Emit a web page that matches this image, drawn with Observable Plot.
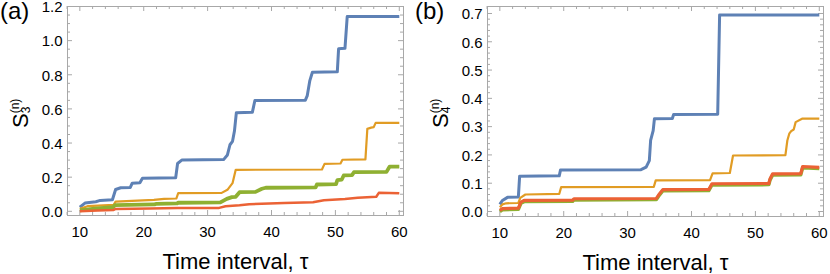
<!DOCTYPE html>
<html>
<head>
<meta charset="utf-8">
<script src="https://cdn.jsdelivr.net/npm/d3@7"></script>
<script src="https://cdn.jsdelivr.net/npm/@observablehq/plot@0.6"></script>
<style>
  html, body { margin: 0; padding: 0; background: #fff; }
  #wrap { display: flex; width: 830px; height: 274px; }
  #wrap svg { display: block; overflow: visible; }
</style>
</head>
<body>
<div id="wrap"></div>
<script>
// ---------- data (tau, value) ----------
const blueA = [[10,0.024],[10.8,0.048],[12.5,0.056],[13.2,0.064],[15.1,0.068],[15.6,0.128],[16.4,0.138],[17.9,0.14],[18.2,0.165],[19.4,0.167],[19.8,0.194],[25,0.196],[25.3,0.28],[26,0.301],[32.5,0.303],[33.1,0.33],[33.5,0.39],[33.9,0.41],[34.2,0.47],[34.5,0.578],[37.0,0.58],[37.4,0.649],[45.3,0.651],[45.6,0.678],[46.0,0.766],[46.4,0.815],[50.3,0.817],[50.5,0.952],[51.5,0.955],[51.85,1.141],[60,1.141]];
const orangeA = [[10,0.015],[11.2,0.03],[15.3,0.038],[15.6,0.057],[21.6,0.067],[23.2,0.073],[25.1,0.075],[25.4,0.106],[32.2,0.108],[33.1,0.126],[33.9,0.165],[34.4,0.243],[47.9,0.245],[48.3,0.278],[50.8,0.28],[51.1,0.302],[54.7,0.304],[55.0,0.483],[55.6,0.49],[56.0,0.493],[56.3,0.518],[60,0.518]];
const greenA = [[10,0.005],[12.3,0.015],[15.2,0.024],[15.5,0.036],[21.7,0.04],[22,0.044],[25.2,0.046],[25.4,0.05],[32,0.052],[33,0.073],[33.8,0.083],[34.4,0.085],[35.0,0.112],[37.5,0.114],[38.5,0.132],[39.1,0.138],[46.9,0.14],[47.1,0.157],[50.1,0.159],[50.3,0.182],[51.0,0.186],[51.3,0.21],[52.6,0.212],[52.9,0.229],[58.0,0.231],[58.5,0.262],[60,0.262]];
const redA = [[10,0.0],[12.8,0.004],[15.3,0.008],[15.6,0.014],[21,0.017],[25.3,0.019],[31.8,0.02],[32.8,0.03],[35,0.036],[36.5,0.042],[42,0.048],[46.5,0.053],[48.2,0.065],[51.5,0.072],[53.5,0.08],[56.4,0.085],[56.8,0.108],[60,0.106]];

const blueB = [[10,0.025],[10.4,0.039],[11.2,0.05],[12.9,0.051],[13.1,0.125],[19.3,0.126],[19.5,0.147],[32.1,0.148],[32.9,0.157],[33.4,0.18],[33.6,0.251],[34.0,0.286],[34.2,0.328],[37.0,0.329],[37.2,0.343],[44.1,0.344],[44.4,0.695],[60,0.695]];
const orangeB = [[10,0.015],[10.4,0.025],[11,0.029],[12.9,0.03],[13.2,0.048],[14,0.06],[19.3,0.062],[19.6,0.086],[34.1,0.087],[34.4,0.11],[42.9,0.111],[43.3,0.135],[46.0,0.136],[46.5,0.198],[54.7,0.199],[55.0,0.251],[55.3,0.275],[55.6,0.284],[56.0,0.29],[56.3,0.316],[57.3,0.328],[60,0.328]];
const greenB = [[10,0.0],[10.4,0.006],[12.9,0.008],[13.3,0.029],[13.8,0.035],[21.4,0.036],[21.6,0.041],[34.5,0.042],[35,0.059],[35.5,0.073],[42.7,0.074],[43.2,0.094],[52.1,0.095],[52.3,0.112],[52.7,0.129],[57.1,0.13],[57.4,0.155],[60,0.152]];
const redB = [[10,0.004],[10.4,0.01],[12.9,0.012],[13.3,0.033],[13.8,0.039],[21.4,0.04],[21.6,0.045],[34.5,0.046],[35.0,0.063],[35.5,0.077],[42.7,0.078],[43.2,0.098],[52.1,0.099],[52.3,0.116],[52.7,0.133],[57.1,0.134],[57.4,0.159],[60,0.156]];

// ---------- ticks ----------
const xMajor = [10, 20, 30, 40, 50, 60];
const xMinor = [8, 12, 14, 16, 18, 22, 24, 26, 28, 32, 34, 36, 38, 42, 44, 46, 48, 52, 54, 56, 58];
const yMajorA = [0, 0.2, 0.4, 0.6, 0.8, 1.0, 1.2];
const yMajorB = [0, 0.1, 0.2, 0.3, 0.4, 0.5, 0.6, 0.7];

const colors = {blue: "#5E81B5", orange: "#E19C24", green: "#8FB032", red: "#EB6235"};
const FONT = "'Liberation Sans', Arial, Helvetica, sans-serif";
const FRAME = "#a8a8a8";

function panel(opts) {
  const {series, yDomain, yMajor, yMinor, yFmt, marginLeft, marginRight, marginBottom, letter, sub} = opts;
  const W = 415, H = 274, marginTop = 6;
  const fw = W - marginLeft - marginRight;
  const fh = H - marginTop - marginBottom;
  const marks = [
    Plot.frame({stroke: FRAME}),
    // inward ticks: bottom / top / left / right
    Plot.tickX(xMajor, {x: d => d, insetTop: fh - 5, stroke: FRAME}),
    Plot.tickX(xMinor, {x: d => d, insetTop: fh - 3, stroke: FRAME}),
    Plot.tickX(xMajor, {x: d => d, insetBottom: fh - 5, stroke: FRAME}),
    Plot.tickX(xMinor, {x: d => d, insetBottom: fh - 3, stroke: FRAME}),
    Plot.tickY(yMajor, {y: d => d, insetRight: fw - 5, stroke: FRAME}),
    Plot.tickY(yMinor, {y: d => d, insetRight: fw - 3, stroke: FRAME}),
    Plot.tickY(yMajor, {y: d => d, insetLeft: fw - 5, stroke: FRAME}),
    Plot.tickY(yMinor, {y: d => d, insetLeft: fw - 3, stroke: FRAME}),
    Plot.axisX(xMajor, {tickSize: 0, tickPadding: 10.5, label: null, tickFormat: d => String(d), fill: "#000"}),
    Plot.axisY(yMajor, {tickSize: 0, tickPadding: 5, dy: 1, label: null, tickFormat: yFmt, fill: "#000"}),
  ];
  for (const s of series) {
    marks.push(Plot.line(s.data, {x: d => d[0], y: d => d[1], stroke: s.color, strokeWidth: s.width, strokeLinejoin: "round", strokeLinecap: "butt"}));
  }
  marks.push(Plot.text(["Time interval, \u03C4"], {frameAnchor: "bottom", dy: 53.5, lineAnchor: "bottom", fontSize: 22, fill: "#000", text: d => d}));
  const chart = Plot.plot({
    width: W, height: H, marginLeft, marginRight, marginTop, marginBottom,
    x: {domain: [8.07, 60.66]},
    y: {domain: yDomain},
    style: {fontFamily: FONT, fontSize: "15px", color: "#000", background: "#fff"},
    marks
  });
  const svg = d3.select(chart);
  svg.append("text")
    .attr("x", 0).attr("y", 19).attr("text-anchor", "start")
    .attr("font-size", 24).attr("font-family", FONT).attr("fill", "#000")
    .text(letter);
  const bx = marginLeft - 39;
  const t = svg.append("text")
    .attr("transform", `translate(${bx},128) rotate(-90)`)
    .attr("text-anchor", "start")
    .attr("font-family", FONT).attr("fill", "#000").attr("font-size", 22);
  t.append("tspan").text("S");
  t.append("tspan").attr("font-size", 12).attr("dy", 2).text(sub);
  t.append("tspan").attr("font-size", 12).attr("dx", -6.7).attr("dy", -11).text("(n)");
  return chart;
}

const wrap = document.getElementById("wrap");
const fmt1 = d3.format(".1f");
wrap.appendChild(panel({
  series: [
    {data: blueA, color: colors.blue, width: 3},
    {data: orangeA, color: colors.orange, width: 2.2},
    {data: greenA, color: colors.green, width: 3.8},
    {data: redA, color: colors.red, width: 2.5}
  ],
  yDomain: [-0.0246, 1.2],
  yMajor: yMajorA,
  yMinor: d3.range(0.05, 1.2, 0.05).filter(v => Math.abs(v / 0.2 - Math.round(v / 0.2)) > 1e-6),
  yFmt: fmt1,
  marginLeft: 67, marginRight: 12, marginBottom: 59,
  letter: "(a)", sub: "3"
}));
wrap.appendChild(panel({
  series: [
    {data: blueB, color: colors.blue, width: 3},
    {data: orangeB, color: colors.orange, width: 2.2},
    {data: greenB, color: colors.green, width: 3.5},
    {data: redB, color: colors.red, width: 3.2}
  ],
  yDomain: [-0.0177, 0.7247],
  yMajor: yMajorB,
  yMinor: d3.range(0.02, 0.72, 0.02).filter(v => Math.abs(v / 0.1 - Math.round(v / 0.1)) > 1e-6),
  yFmt: fmt1,
  marginLeft: 72, marginRight: 7, marginBottom: 58,
  letter: "(b)", sub: "4"
}));
</script>
</body>
</html>
